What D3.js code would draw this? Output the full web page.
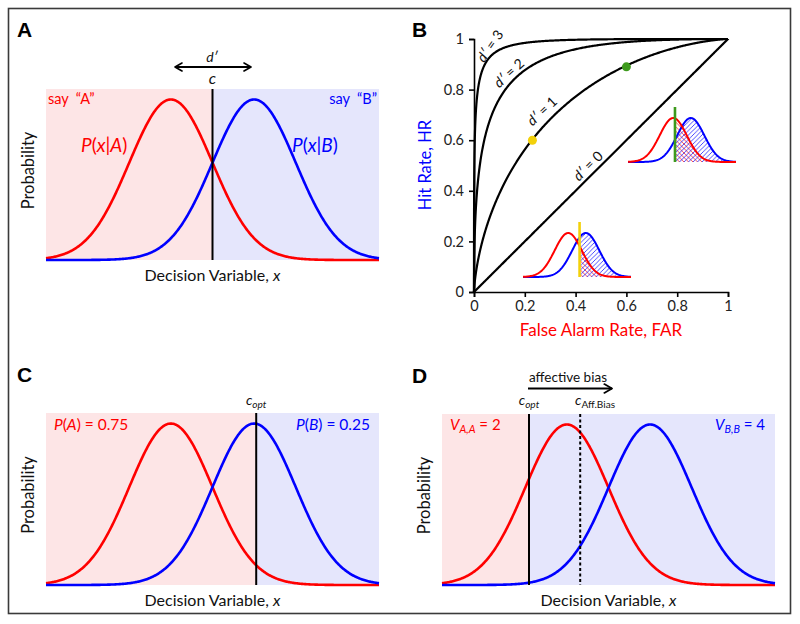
<!DOCTYPE html>
<html><head><meta charset="utf-8">
<script src="https://cdn.jsdelivr.net/npm/d3@7"></script>
<style>body{margin:0;background:#fff} svg{display:block}</style>
</head><body>
<svg id="chart" width="800" height="624"></svg>
<script>
// ---------------- data ----------------
const decisionDomain = [-4, 4];          // decision variable range, panels A, C, D
const pdfDomain = [0, 0.425];            // probability axis range
const meansA = [-1, -1, -1];             // mean of P(x|A) in panels A, C, D
const meansB = [1, 1, 1];                // mean of P(x|B) in panels A, C, D
const sigma = 1;
const criteriaA = [0];                   // c
const criteriaC = [1.05];                // c_opt
const criteriaD = [-1.91, -0.68];        // c_opt, c_Aff.Bias (dashed)
const dPrimes = [0, 1, 2, 3];
const dPrimeLabels = ["0", "1", "2", "3"];
const rocFAR = [0.23, 0.6];
const rocHR = [0.6, 0.89];
const rocColors = ["#f3d10a", "#3d9a1c"];
const insetDomain = [-4, 4];
const insetMeans = [-0.65, 0.65];
const insetCriteria = [0.19, -0.52];
const rocTicks = [0, 0.2, 0.4, 0.6, 0.8, 1];
const rocTickLabels = ["0", "0.2", "0.4", "0.6", "0.8", "1"];

// ---------------- helpers ----------------
const RED = "#ff0000", BLUE = "#0000ff";
const FONT = "Lato, 'Open Sans', sans-serif";
const BOLD = "'Liberation Sans', Arial, sans-serif";
const svg = d3.select("#chart");
const pdf = (x, m, s) => Math.exp(-0.5 * ((x - m) / s) ** 2) / (s * Math.sqrt(2 * Math.PI));
function erf(x) {
  const t = 1 / (1 + 0.3275911 * Math.abs(x));
  const y = 1 - (((((1.061405429 * t - 1.453152027) * t) + 1.421413741) * t - 0.284496736) * t + 0.254829592) * t * Math.exp(-x * x);
  return x >= 0 ? y : -y;
}
const Phi = x => 0.5 * (1 + erf(x / Math.SQRT2));

// parts: [text, {i:italic, sub:subscript}]
function mtext(g, x, y, parts, o = {}) {
  const size = o.size || 16;
  const t = g.append("text").attr("x", x).attr("y", y)
    .attr("font-family", FONT).attr("font-size", size)
    .attr("fill", o.fill || "#111").attr("text-anchor", o.anchor || "start")
    .attr("xml:space", "preserve");
  if (o.transform) t.attr("transform", o.transform);
  if (o.dy) t.attr("dy", o.dy);
  let shifted = false;
  parts.forEach(p => {
    const [s, st = {}] = typeof p === "string" ? [p, {}] : p;
    const ts = t.append("tspan").text(s);
    if (st.i) ts.attr("font-style", "italic");
    if (st.sub) {
      ts.attr("font-size", size * 0.72);
      if (!shifted) { ts.attr("dy", 3); shifted = true; }
    } else if (shifted) { ts.attr("dy", -3); shifted = false; }
  });
  return t;
}

// frame
svg.append("rect").attr("x", 8.5).attr("y", 8.5).attr("width", 782).attr("height", 605)
  .attr("fill", "none").attr("stroke", "#3a3a3a").attr("stroke-width", 1.6);

// defs: arrowheads and hatches
const defs = svg.append("defs");
function chevron(id, orient) {
  defs.append("marker").attr("id", id).attr("viewBox", "0 0 10 10").attr("refX", 8).attr("refY", 5)
    .attr("markerWidth", 5).attr("markerHeight", 5).attr("orient", orient).attr("markerUnits", "strokeWidth")
    .append("path").attr("d", "M1,1 L8,5 L1,9").attr("fill", "none").attr("stroke", "#000").attr("stroke-width", 1.6)
    .attr("stroke-linecap", "round").attr("stroke-linejoin", "round");
}
chevron("arrowEnd", "auto");
chevron("arrowStart", "auto-start-reverse");
function hatch(id, color, dir) {
  const s = 4.5;
  const p = defs.append("pattern").attr("id", id).attr("patternUnits", "userSpaceOnUse").attr("width", s).attr("height", s);
  const d = dir > 0 ? `M-1,1 l2,-2 M0,${s} l${s},-${s} M${s - 1},${s + 1} l2,-2`
                    : `M-1,${s - 1} l2,2 M0,0 l${s},${s} M${s - 1},-1 l2,2`;
  p.append("path").attr("d", d).attr("stroke", color).attr("stroke-width", 0.7);
}
hatch("hatchBlue", BLUE, 1);
hatch("hatchRed", RED, -1);

// ---------------- distribution panels ----------------
function distPanel(cfg, idx) {
  const g = svg.append("g");
  const x = d3.scaleLinear().domain(decisionDomain).range([cfg.x0, cfg.x1]);
  const y = d3.scaleLinear().domain(pdfDomain).range([cfg.yBot, cfg.yTop]);
  const split = x(cfg.criteria[0]);
  g.append("rect").attr("x", cfg.x0).attr("y", cfg.yTop).attr("width", split - cfg.x0).attr("height", cfg.yBot - cfg.yTop).attr("fill", "#fde5e6");
  g.append("rect").attr("x", split).attr("y", cfg.yTop).attr("width", cfg.x1 - split).attr("height", cfg.yBot - cfg.yTop).attr("fill", "#e5e6fc");
  const xs = d3.range(decisionDomain[0], decisionDomain[1] + 1e-9, 0.02);
  const line = m => d3.line().x(v => x(v)).y(v => y(pdf(v, m, sigma)))(xs);
  g.append("path").attr("d", line(meansA[idx])).attr("fill", "none").attr("stroke", RED).attr("stroke-width", 2.6);
  g.append("path").attr("d", line(meansB[idx])).attr("fill", "none").attr("stroke", BLUE).attr("stroke-width", 2.6);
  cfg.criteria.forEach((c, k) => {
    g.append("line").attr("x1", x(c)).attr("x2", x(c)).attr("y1", cfg.yTop).attr("y2", cfg.yBot)
      .attr("stroke", "#000").attr("stroke-width", 2).attr("stroke-dasharray", k === 1 ? "3,2.5" : null);
  });
  mtext(g, 0, 0, ["Probability"], { anchor: "middle", size: 16.5, transform: `translate(${cfg.x0 - 12},${(cfg.yTop + cfg.yBot) / 2 - 4}) rotate(-90)` });
  mtext(g, (cfg.x0 + cfg.x1) / 2, cfg.yBot + 21, ["Decision Variable, ", ["x", { i: 1 }]], { anchor: "middle", size: 16 });
  return { g, x, y };
}

// Panel A
const pA = distPanel({ x0: 46, x1: 379, yTop: 89, yBot: 260, criteria: criteriaA }, 0);
svg.append("text").attr("x", 17).attr("y", 37).attr("font-family", BOLD).attr("font-weight", "bold").attr("font-size", 21).text("A");
svg.append("line").attr("x1", 175).attr("x2", 251).attr("y1", 67).attr("y2", 67).attr("stroke", "#000").attr("stroke-width", 2)
  .attr("marker-start", "url(#arrowStart)").attr("marker-end", "url(#arrowEnd)");
mtext(svg, 212, 62, [["d′", { i: 1 }]], { anchor: "middle", size: 14 });
mtext(svg, pA.x(criteriaA[0]), 84, [["c", { i: 1 }]], { anchor: "middle", size: 16 });
mtext(svg, 48, 104, ["say  “A”"], { fill: RED, size: 14.5 });
mtext(svg, 377, 104, ["say  “B”"], { fill: BLUE, size: 14.5, anchor: "end" });
mtext(svg, 81, 152, [["P", { i: 1 }], "(", ["x", { i: 1 }], "|", ["A", { i: 1 }], ")"], { fill: RED, size: 19 });
mtext(svg, 292, 152, [["P", { i: 1 }], "(", ["x", { i: 1 }], "|", ["B", { i: 1 }], ")"], { fill: BLUE, size: 19 });

// Panel C
const pC = distPanel({ x0: 46, x1: 379, yTop: 413, yBot: 585, criteria: criteriaC }, 1);
svg.append("text").attr("x", 17).attr("y", 382).attr("font-family", BOLD).attr("font-weight", "bold").attr("font-size", 21).text("C");
mtext(svg, pC.x(criteriaC[0]), 405, [["c", { i: 1 }], ["opt", { i: 1, sub: 1 }]], { anchor: "middle", size: 14 });
mtext(svg, 54, 430, [["P", { i: 1 }], "(", ["A", { i: 1 }], ") = 0.75"], { fill: RED, size: 15.5 });
mtext(svg, 370, 430, [["P", { i: 1 }], "(", ["B", { i: 1 }], ") = 0.25"], { fill: BLUE, size: 15.5, anchor: "end" });

// Panel D
const pD = distPanel({ x0: 442, x1: 775, yTop: 414, yBot: 585, criteria: criteriaD }, 2);
svg.append("text").attr("x", 412).attr("y", 383).attr("font-family", BOLD).attr("font-weight", "bold").attr("font-size", 21).text("D");
mtext(svg, 529, 382, ["affective bias"], { size: 13.5 });
svg.append("line").attr("x1", 528).attr("x2", 612).attr("y1", 388.5).attr("y2", 388.5).attr("stroke", "#000").attr("stroke-width", 2.2)
  .attr("marker-end", "url(#arrowEnd)");
mtext(svg, pD.x(criteriaD[0]), 405, [["c", { i: 1 }], ["opt", { i: 1, sub: 1 }]], { anchor: "middle", size: 14 });
mtext(svg, 575, 405, [["c", { i: 1 }], ["Aff.Bias", { sub: 1 }]], { size: 14 });
mtext(svg, 450, 430, [["V", { i: 1 }], ["A,A", { i: 1, sub: 1 }], " = 2"], { fill: RED, size: 15 });
mtext(svg, 765, 430, [["V", { i: 1 }], ["B,B", { i: 1, sub: 1 }], " = 4"], { fill: BLUE, size: 15, anchor: "end" });

// ---------------- Panel B: ROC ----------------
const gB = svg.append("g");
svg.append("text").attr("x", 412).attr("y", 37).attr("font-family", BOLD).attr("font-weight", "bold").attr("font-size", 21).text("B");
const rx = d3.scaleLinear().domain([0, 1]).range([474, 728]);
const ry = d3.scaleLinear().domain([0, 1]).range([292, 39]);
const xAxis = gB.append("g").attr("transform", "translate(0,292)")
  .call(d3.axisBottom(rx).tickValues(rocTicks).tickFormat((d, i) => rocTickLabels[i]).tickSize(5).tickPadding(4));
const yAxis = gB.append("g").attr("transform", "translate(474,0)")
  .call(d3.axisLeft(ry).tickValues(rocTicks).tickFormat((d, i) => rocTickLabels[i]).tickSize(5).tickPadding(5));
[xAxis, yAxis].forEach(a => {
  a.selectAll("path,line").attr("stroke", "#000").attr("stroke-width", 1.6);
  a.selectAll("text").attr("font-family", FONT).attr("font-size", 14.5).attr("fill", "#222");
});
const cs = d3.range(-9, 12, 0.01);
dPrimes.forEach(dp => {
  const pts = cs.map(c => [1 - Phi(c), 1 - Phi(c - dp)]).filter(p => p[0] >= 0 && p[0] <= 1);
  gB.append("path").attr("d", d3.line().x(p => rx(p[0])).y(p => ry(p[1]))(pts))
    .attr("fill", "none").attr("stroke", "#000").attr("stroke-width", 2.2);
});
// d' labels along curves (centre x, centre y, angle)
const dLabelPos = [[588, 166, -45], [542, 111, -43], [509, 73, -42], [490, 46, -55]];
dPrimes.forEach((dp, i) => {
  const [lx, ly, ang] = dLabelPos[i];
  mtext(gB, 0, 0, [["d′", { i: 1 }], " = " + dPrimeLabels[i]], { size: 14, anchor: "middle", dy: "0.35em", transform: `translate(${lx},${ly}) rotate(${ang})` });
});
mtext(gB, 0, 0, ["Hit Rate, HR"], { fill: BLUE, size: 16.5, anchor: "middle", transform: "translate(431,165) rotate(-90)" });
mtext(gB, 601, 336, ["False Alarm Rate, FAR"], { fill: RED, size: 17, anchor: "middle" });

// insets
const insetBox = [{ x0: 523, x1: 631, base: 277 }, { x0: 628, x1: 736, base: 162 }];
insetCriteria.forEach((crit, k) => {
  const b = insetBox[k];
  const ix = d3.scaleLinear().domain(insetDomain).range([b.x0, b.x1]);
  const iy = d3.scaleLinear().domain([0, 0.399]).range([b.base, b.base - 44]);
  const g = gB.append("g");
  const xs = d3.range(insetDomain[0], insetDomain[1] + 1e-9, 0.04);
  const right = [crit].concat(xs.filter(v => v > crit));
  const ar = m => d3.area().x(v => ix(v)).y0(b.base).y1(v => iy(pdf(v, m, sigma)))(right);
  g.append("path").attr("d", ar(insetMeans[0])).attr("fill", "url(#hatchRed)");
  g.append("path").attr("d", ar(insetMeans[1])).attr("fill", "url(#hatchBlue)");
  const ln = m => d3.line().x(v => ix(v)).y(v => iy(pdf(v, m, sigma)))(xs);
  g.append("path").attr("d", ln(insetMeans[1])).attr("fill", "none").attr("stroke", BLUE).attr("stroke-width", 2);
  g.append("path").attr("d", ln(insetMeans[0])).attr("fill", "none").attr("stroke", RED).attr("stroke-width", 2);
  g.append("line").attr("x1", ix(crit)).attr("x2", ix(crit)).attr("y1", b.base - 55).attr("y2", b.base)
    .attr("stroke", rocColors[k]).attr("stroke-width", 2.6);
});

// operating points
rocFAR.forEach((f, i) => {
  gB.append("circle").attr("cx", rx(f)).attr("cy", ry(rocHR[i])).attr("r", 4.5).attr("fill", rocColors[i]);
});
</script>
</body></html>
